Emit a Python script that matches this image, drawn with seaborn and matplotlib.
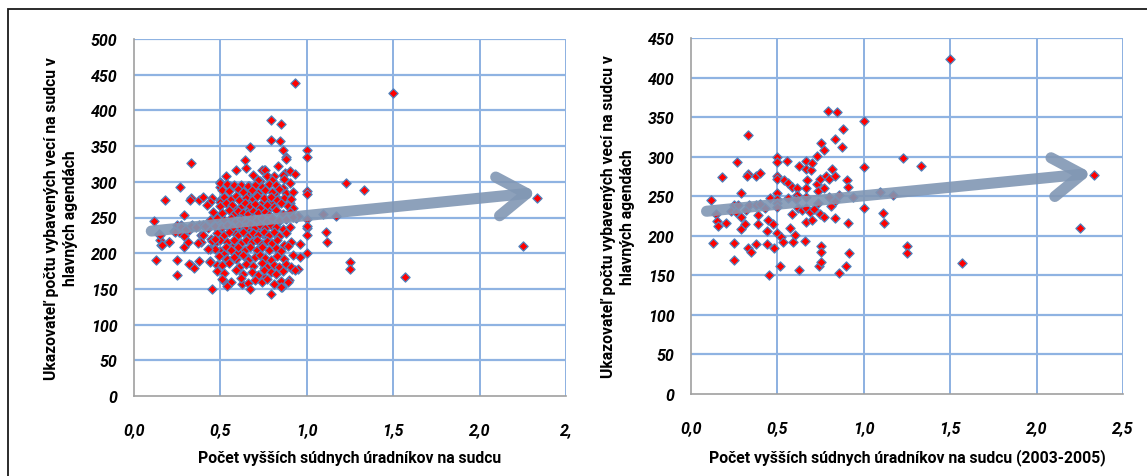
import numpy as np
import pandas as pd
import matplotlib
matplotlib.use("Agg")
import matplotlib.pyplot as plt
import seaborn as sns
from matplotlib.patches import Rectangle
from matplotlib.font_manager import FontProperties

# ---------------- data ----------------
# points shown in both panels (2003-2005 subset)
sub_x = [0.113, 0.126, 0.144, 0.153, 0.155, 0.178, 0.203, 0.230, 0.251, 0.251, 0.251, 0.259, 0.268, 0.272,
         0.289, 0.289, 0.289, 0.314, 0.318, 0.331, 0.331, 0.322, 0.335, 0.331, 0.345, 0.377, 0.402, 0.377,
         0.385, 0.385, 0.377, 0.402, 0.427, 0.439, 0.439, 0.444, 0.452, 0.460, 0.477, 0.481, 0.498, 0.498,
         0.498, 0.498, 0.498, 0.498, 0.498, 0.498, 0.498, 0.519, 0.517, 0.531, 0.540, 0.556, 0.561, 0.561,
         0.575, 0.582, 0.586, 0.590, 0.603, 0.611, 0.611, 0.607, 0.623, 0.619, 0.623, 0.644, 0.657, 0.667,
         0.665, 0.669, 0.667, 0.665, 0.667, 0.667, 0.690, 0.695, 0.701, 0.701, 0.711, 0.728, 0.732, 0.736,
         0.736, 0.743, 0.749, 0.749, 0.753, 0.753, 0.753, 0.753, 0.770, 0.770, 0.770, 0.782, 0.791, 0.799,
         0.799, 0.808, 0.816, 0.833, 0.833, 0.833, 0.833, 0.847, 0.854, 0.858, 0.874, 0.877, 0.895, 0.904,
         0.908, 0.908, 0.916, 0.937, 1.000, 1.000, 1.000, 1.096, 1.109, 1.117, 1.167, 1.226, 1.251, 1.251,
         1.331, 1.498, 1.571, 2.249, 2.333]
sub_y = [245, 191, 227, 219, 212, 274, 216, 231, 170, 191, 239, 230, 293, 239,
         254, 224, 209, 215, 233, 327, 278, 275, 239, 184, 179, 275, 279, 239,
         226, 215, 189, 240, 235, 206, 189, 220, 150, 248, 215, 184, 300, 293,
         275, 272, 254, 246, 242, 236, 203, 199, 162, 192, 270, 294, 267, 248,
         210, 262, 228, 192, 201, 260, 252, 246, 288, 235, 157, 232, 193, 294,
         285, 270, 260, 249, 235, 218, 230, 283, 292, 220, 234, 265, 301, 256,
         241, 162, 272, 227, 317, 187, 179, 167, 261, 308, 224, 276, 358, 272,
         249, 238, 284, 322, 276, 244, 223, 357, 153, 252, 312, 335, 162, 270,
         262, 216, 178, 249, 345, 287, 235, 255, 229, 216, 252, 298, 187, 178,
         288, 424, 166, 210, 277]

# additional points shown only in the left panel (all years)
extra_x = [0.93, 0.79, 0.85, 0.67, 0.86, 1.00, 0.88, 0.64, 0.59, 0.65, 0.74, 0.76, 0.90, 0.93, 0.86, 0.69,
           0.77, 0.81, 0.53, 0.87, 0.72, 0.80,
           0.50, 0.54, 0.58, 0.62, 0.66, 0.70, 0.74, 0.78, 0.82, 0.86, 0.90,
           0.51, 0.55, 0.60, 0.63, 0.68, 0.72, 0.76, 0.80, 0.84, 0.88, 0.92, 1.00,
           0.45, 0.52, 0.56, 0.59, 0.61, 0.65, 0.69, 0.71, 0.75, 0.79, 0.83, 0.87, 0.91, 0.44,
           0.42, 0.50, 0.53, 0.57, 0.62, 0.64, 0.67, 0.70, 0.73, 0.77, 0.81, 0.85, 0.89, 0.92,
           0.46, 0.51, 0.55, 0.58, 0.60, 0.63, 0.66, 0.69, 0.72, 0.76, 0.78, 0.82, 0.86, 0.90, 0.95,
           0.44, 0.48, 0.52, 0.56, 0.59, 0.62, 0.65, 0.68, 0.71, 0.74, 0.77, 0.80, 0.84, 0.88, 0.92, 1.00,
           0.47, 0.51, 0.54, 0.57, 0.61, 0.64, 0.67, 0.70, 0.73, 0.76, 0.79, 0.82, 0.86, 0.90, 1.00,
           0.48, 0.52, 0.55, 0.60, 0.63, 0.66, 0.69, 0.72, 0.75, 0.78, 0.81, 0.84, 0.88, 1.00,
           0.45, 0.50, 0.54, 0.58, 0.62, 0.65, 0.68, 0.71, 0.74, 0.77, 0.80, 0.83, 0.87, 0.96,
           0.47, 0.53, 0.56, 0.60, 0.64, 0.67, 0.71, 0.74, 0.78, 0.82, 0.85, 0.89, 1.00,
           0.49, 0.54, 0.58, 0.63, 0.66, 0.70, 0.73, 0.76, 0.79, 0.83, 0.87, 0.92, 0.96,
           0.44, 0.51, 0.55, 0.61, 0.65, 0.69, 0.74, 0.77, 0.81, 0.84, 0.88, 0.91, 0.95,
           0.48, 0.52, 0.59, 0.63, 0.68, 0.72, 0.75, 0.79, 0.82, 0.86, 0.93,
           0.51, 0.56, 0.62, 0.66, 0.70, 0.74, 0.77, 0.81, 0.85, 0.89, 0.54, 0.67, 0.79, 0.85,
           0.16, 0.15, 0.20, 0.24, 0.27, 0.30, 0.33, 0.36, 0.41, 0.32, 0.37, 0.40, 0.43, 0.47]
extra_y = [439, 386, 381, 349, 345, 335, 332, 330, 316, 319, 317, 316, 315, 311, 310, 309,
           308, 308, 308, 304, 303, 302,
           299, 297, 296, 295, 294, 296, 293, 297, 295, 292, 298,
           289, 287, 290, 286, 288, 285, 289, 286, 290, 284, 286, 283,
           277, 279, 276, 280, 275, 278, 276, 280, 277, 279, 275, 278, 276, 272,
           268, 266, 270, 268, 265, 270, 266, 269, 264, 268, 265, 270, 266, 263,
           258, 256, 260, 255, 259, 257, 255, 259, 256, 258, 254, 260, 255, 258, 252,
           247, 250, 246, 249, 245, 248, 244, 250, 246, 249, 245, 250, 246, 248, 251, 248,
           238, 236, 240, 235, 239, 237, 241, 236, 239, 235, 240, 237, 234, 236, 238,
           228, 225, 230, 226, 229, 224, 228, 225, 230, 226, 229, 224, 228, 226,
           217, 219, 215, 218, 214, 219, 215, 218, 213, 217, 214, 219, 212, 213,
           206, 209, 205, 208, 204, 209, 205, 208, 204, 207, 203, 210, 200,
           196, 192, 195, 197, 191, 194, 197, 193, 190, 196, 192, 197, 195,
           187, 183, 186, 181, 185, 182, 186, 181, 184, 180, 185, 180, 178,
           175, 172, 176, 171, 174, 170, 176, 173, 171, 175, 177,
           164, 160, 165, 158, 162, 160, 164, 157, 161, 159, 154, 150, 143, 152,
           211, 225, 216, 230, 236, 234, 238, 236, 238, 185, 214, 226, 206, 220]

# trend arrows (start -> end) in data units
arrow_left = [(0.10, 231), (2.33, 285)]
arrow_right = [(0.09, 231), (2.32, 279)]

left_xticklabels = ["0,0", "0,5", "1,0", "1,5", "2,0", "2,"]
right_xticklabels = ["0,0", "0,5", "1,0", "1,5", "2,0", "2,5"]
ylabel = "Ukazovateľ počtu vybavených vecí na sudcu v\nhlavných agendách"
xlabel_left = "Počet vyšších súdnych úradníkov na sudcu"
xlabel_right = "Počet vyšších súdnych úradníkov na sudcu (2003-2005)"

# ---------------- plotting ----------------
sns.set_style("white")
FONT = ["Roboto", "DejaVu Sans"]
plt.rcParams["font.family"] = FONT

W, H = 1147, 477
fig = plt.figure(figsize=(W / 100, H / 100), dpi=100)

ax1 = fig.add_axes([134 / W, 1 - 397 / H, 432 / W, 357 / H])
ax2 = fig.add_axes([691 / W, 1 - 395 / H, 432 / W, 356 / H])

df_left = pd.DataFrame({"x": sub_x + extra_x, "y": sub_y + extra_y})
df_right = pd.DataFrame({"x": sub_x, "y": sub_y})

MARK_FACE = "#ff0000"
MARK_EDGE = "#4f81bd"
HGRID = "#8fb3e2"
VGRID = "#6e9bd8"
ARROW = "#8197b4"

tick_fp = FontProperties(family=FONT, weight="bold", style="italic", size=11.5)
label_fp = FontProperties(family=FONT, weight="bold", size=11.3)


def style(ax, ymax, xticklabels, xlabel, xlab_y):
    ax.set_xlim(0, 2.5)
    ax.set_ylim(0, ymax)
    ax.set_xticks(np.arange(0, 2.51, 0.5), xticklabels, fontproperties=tick_fp)
    ax.set_yticks(np.arange(0, ymax + 1, 50), [str(v) for v in range(0, ymax + 1, 50)],
                  fontproperties=tick_fp)
    ax.tick_params(axis="y", length=0, pad=12, labelcolor="black")
    ax.tick_params(axis="x", length=0, pad=19, labelcolor="black")
    ax.grid(False)
    for v in np.arange(0.5, 2.51, 0.5):
        ax.axvline(v, color=VGRID, lw=1.1, zorder=0.5)
    for v in range(50, ymax + 1, 50):
        ax.axhline(v, color=HGRID, lw=1.6, zorder=0.5)
    for s in ["top", "right"]:
        ax.spines[s].set_visible(False)
    for s in ["left", "bottom"]:
        ax.spines[s].set_color("#a0a0a0")
        ax.spines[s].set_linewidth(1.2)
    ax.set_xlabel(xlabel, fontproperties=label_fp, color="black")
    ax.xaxis.set_label_coords(0.5, xlab_y)
    ax.set_ylabel(ylabel, fontproperties=label_fp, color="black",
                  multialignment="center", linespacing=1.35)
    ax.yaxis.set_label_coords(-0.13, 0.5)


for ax, df, arr in [(ax1, df_left, arrow_left), (ax2, df_right, arrow_right)]:
    sns.scatterplot(data=df, x="x", y="y", ax=ax, marker="D", s=22,
                    color=MARK_FACE, edgecolor=MARK_EDGE, linewidth=0.9, zorder=3)
    ax.annotate("", xy=arr[1], xytext=arr[0],
                arrowprops=dict(arrowstyle="->,head_length=2.1,head_width=1.4",
                                lw=8, color=ARROW, alpha=0.9, shrinkA=0, shrinkB=0,
                                mutation_scale=10, capstyle="round", joinstyle="round"),
                zorder=4)

style(ax1, 500, left_xticklabels, xlabel_left, -0.15)
style(ax2, 450, right_xticklabels, xlabel_right, -0.152)

fig.patches.append(Rectangle((8 / W, -0.1), 1.2, 1.1 - 10 / H, transform=fig.transFigure,
                             fill=False, edgecolor="#1a1a1a", lw=1.3))

fig.savefig("out.png", dpi=100)
